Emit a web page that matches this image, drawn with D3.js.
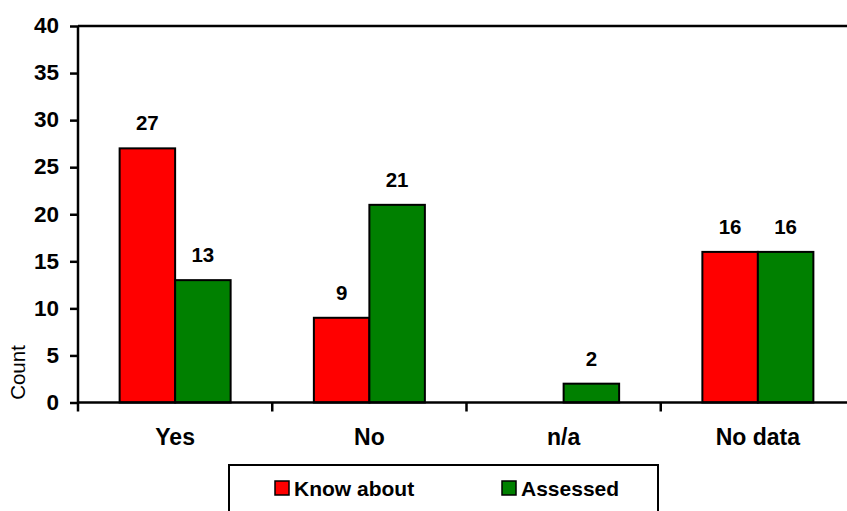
<!DOCTYPE html>
<html>
<head>
<meta charset="utf-8">
<script src="https://cdn.jsdelivr.net/npm/d3@7"></script>
<style>
  body { margin: 0; background: #fff; }
  svg { font-family: "Liberation Sans", Arial, sans-serif; }
</style>
</head>
<body>
<svg id="chart" width="847" height="511"></svg>
<script>
const categories = ["Yes", "No", "n/a", "No data"];
const seriesNames = ["Know about", "Assessed"];
const knowAbout = [27, 9, 0, 16];
const assessed = [13, 21, 2, 16];
const yTicks = [0, 5, 10, 15, 20, 25, 30, 35, 40];
const colors = ["#ff0000", "#008000"];

const width = 847;
const height = 511;
const margin = { top: 26, left: 78, bottom: 108.5, right: -8 };
const iwidth = width - margin.left - margin.right;
const iheight = height - margin.top - margin.bottom;

const data = categories.map((c, i) => ({
  name: c,
  values: [
    { key: seriesNames[0], value: knowAbout[i] },
    { key: seriesNames[1], value: assessed[i] }
  ]
}));

const svg = d3.select("#chart");
const g = svg.append("g").attr("transform", `translate(${margin.left},${margin.top})`);

const x = d3.scaleBand().domain(categories).range([0, iwidth]).padding(0);
const x1 = d3.scaleBand().domain(seriesNames).range([0, x.bandwidth()])
  .paddingInner(0).paddingOuter(0.75);
const y = d3.scaleLinear().domain([0, 40]).range([iheight, 0]);
const color = d3.scaleOrdinal().domain(seriesNames).range(colors);

// top frame line
g.append("line")
  .attr("x1", 0).attr("x2", iwidth)
  .attr("y1", 0).attr("y2", 0)
  .attr("stroke", "#000").attr("stroke-width", 2.5);

// bars
const groups = g.selectAll("g.cat").data(data).enter().append("g")
  .attr("class", "cat")
  .attr("transform", d => `translate(${x(d.name)},0)`);

groups.selectAll("rect").data(d => d.values.filter(v => v.value > 0)).enter().append("rect")
  .attr("x", d => x1(d.key))
  .attr("y", d => y(d.value))
  .attr("width", x1.bandwidth())
  .attr("height", d => iheight - y(d.value))
  .attr("fill", d => color(d.key))
  .attr("stroke", "#000")
  .attr("stroke-width", 2);

groups.selectAll("text.val").data(d => d.values.filter(v => v.value > 0)).enter().append("text")
  .attr("class", "val")
  .attr("x", d => x1(d.key) + x1.bandwidth() / 2)
  .attr("y", d => y(d.value) - 18)
  .attr("text-anchor", "middle")
  .style("font-size", "20.5px")
  .style("font-weight", "bold")
  .text(d => d.value);

// y axis
const yAxis = g.append("g")
  .call(d3.axisLeft(y).tickValues(yTicks).tickSize(8).tickPadding(11));
yAxis.select(".domain").attr("stroke-width", 2.5).attr("d", `M0,0V${iheight}`);
yAxis.selectAll(".tick line").attr("stroke-width", 2.5);
yAxis.selectAll(".tick text")
  .style("font-size", "22.5px").style("font-weight", "bold")
  .attr("fill", "#000").attr("dy", "0.3em");

// x axis
const xAxis = g.append("g")
  .attr("transform", `translate(0,${iheight})`)
  .call(d3.axisBottom(x).tickSize(0).tickPadding(26));
xAxis.select(".domain").attr("stroke-width", 2.5).attr("d", `M0,0H${iwidth}`);
xAxis.selectAll(".tick text")
  .style("font-size", "23px").style("font-weight", "bold")
  .attr("fill", "#000");

// x ticks at category boundaries
const bounds = categories.map(c => x(c)).concat([iwidth]);
xAxis.selectAll("line.bound").data(bounds).enter().append("line")
  .attr("class", "bound")
  .attr("x1", d => d).attr("x2", d => d)
  .attr("y1", 0).attr("y2", 9)
  .attr("stroke", "#000").attr("stroke-width", 2.5);

// y axis title
svg.append("text")
  .attr("transform", `translate(25,${margin.top + iheight - 30}) rotate(-90)`)
  .attr("text-anchor", "middle")
  .style("font-size", "20.5px")
  .text("Count");

// legend
const legend = svg.append("g").attr("transform", "translate(229,465)");
legend.append("rect")
  .attr("x", 0).attr("y", 0)
  .attr("width", 429).attr("height", 50)
  .attr("fill", "#fff").attr("stroke", "#000").attr("stroke-width", 2);

const legendX = [46, 273];
const items = legend.selectAll("g.item").data(seriesNames).enter().append("g")
  .attr("class", "item")
  .attr("transform", (d, i) => `translate(${legendX[i]},16)`);
items.append("rect")
  .attr("width", 14).attr("height", 14)
  .attr("fill", d => color(d))
  .attr("stroke", "#000").attr("stroke-width", 1.5);
items.append("text")
  .attr("x", 19).attr("y", 14.5)
  .style("font-size", "21px").style("font-weight", "bold")
  .text(d => d);
</script>
</body>
</html>
